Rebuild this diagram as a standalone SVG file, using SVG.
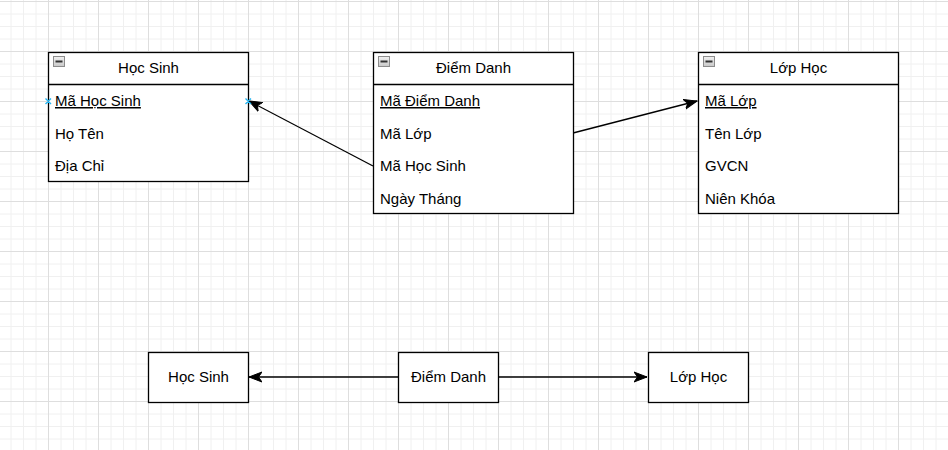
<svg xmlns="http://www.w3.org/2000/svg" width="948" height="450" viewBox="0 0 948 450">
<style>
.t{font-family:"Liberation Sans",Arial,sans-serif;font-size:15px;fill:#000}
.c{text-anchor:middle}
.box{fill:#fff;stroke:#000;stroke-width:1.3}
.sep{stroke:#000;stroke-width:1.3}
.ul{text-decoration:underline}
.edge{fill:none;stroke:#000;stroke-width:1.3}
.mk{fill:none;stroke:#29b6f2;stroke-width:1.4}
</style>
<defs>
<pattern id="grid" patternUnits="userSpaceOnUse" x="-2" y="1" width="50" height="50">
<path d="M13,0V50M25.5,0V50M38,0V50M0,13H50M0,25.5H50M0,38H50" stroke="#f0f0f0" stroke-width="1"/>
<path d="M0.5,0V50M0,0.5H50" stroke="#dedede" stroke-width="1"/>
</pattern>
<linearGradient id="ig" x1="0" y1="0" x2="0" y2="1">
<stop offset="0" stop-color="#f2f2f2"/><stop offset="1" stop-color="#c8c8c8"/>
</linearGradient>
<g id="icon">
<rect x="0.5" y="0.5" width="11" height="10" fill="url(#ig)" stroke="#8c8c8c"/>
<rect x="2.5" y="4.5" width="7" height="2" fill="#333"/>
</g>
<marker id="arr" markerUnits="userSpaceOnUse" markerWidth="16" markerHeight="14" refX="13" refY="6" orient="auto">
<path d="M0,1 L13,6 L0,11 L3.5,6 Z" fill="#000" stroke="#000" stroke-width="1"/>
</marker>
</defs>
<rect width="948" height="450" fill="#fff"/>
<rect width="948" height="450" fill="url(#grid)"/>

<g id="connectors">
<line class="edge" x1="373" y1="166" x2="249" y2="101" marker-end="url(#arr)"/>
<line class="edge" x1="573" y1="133" x2="697" y2="101" marker-end="url(#arr)"/>
<line class="edge" x1="398" y1="377" x2="249" y2="377" marker-end="url(#arr)"/>
<line class="edge" x1="498" y1="377" x2="647" y2="377" marker-end="url(#arr)"/>
</g>

<g id="hocsinh-table">
<rect class="box" x="48.5" y="52.5" width="200" height="129"/>
<line class="sep" x1="48.5" y1="84.5" x2="248.5" y2="84.5"/>
<use href="#icon" x="53" y="56"/>
<text class="t c" x="148.5" y="72.5">Học Sinh</text>
<text class="t ul" x="55" y="106">Mã Học Sinh</text>
<text class="t" x="55" y="138.5">Họ Tên</text>
<text class="t" x="55" y="171">Địa Chỉ</text>
<path class="mk" d="M45.5,98.5L51,104M51,98.5L45.5,104M245.5,98.5L251,104M251,98.5L245.5,104"/>
</g>

<g id="diemdanh-table">
<rect class="box" x="373.5" y="52.5" width="200" height="161"/>
<line class="sep" x1="373.5" y1="84.5" x2="573.5" y2="84.5"/>
<use href="#icon" x="378" y="56"/>
<text class="t c" x="473.5" y="72.5">Điểm Danh</text>
<text class="t ul" x="380" y="106">Mã Điểm Danh</text>
<text class="t" x="380" y="138.5">Mã Lớp</text>
<text class="t" x="380" y="171">Mã Học Sinh</text>
<text class="t" x="380" y="203.5">Ngày Tháng</text>
</g>

<g id="lophoc-table">
<rect class="box" x="698.5" y="52.5" width="200" height="161"/>
<line class="sep" x1="698.5" y1="84.5" x2="898.5" y2="84.5"/>
<use href="#icon" x="703" y="56"/>
<text class="t c" x="798.5" y="72.5">Lớp Học</text>
<text class="t ul" x="705" y="106">Mã Lớp</text>
<text class="t" x="705" y="138.5">Tên Lớp</text>
<text class="t" x="705" y="171">GVCN</text>
<text class="t" x="705" y="203.5">Niên Khóa</text>
</g>

<g id="hocsinh-box">
<rect class="box" x="148.5" y="352.5" width="100" height="50"/>
<text class="t c" x="198.5" y="382">Học Sinh</text>
</g>
<g id="diemdanh-box">
<rect class="box" x="398.5" y="352.5" width="100" height="50"/>
<text class="t c" x="448.5" y="382">Điểm Danh</text>
</g>
<g id="lophoc-box">
<rect class="box" x="648.5" y="352.5" width="100" height="50"/>
<text class="t c" x="698.5" y="382">Lớp Học</text>
</g>
</svg>
